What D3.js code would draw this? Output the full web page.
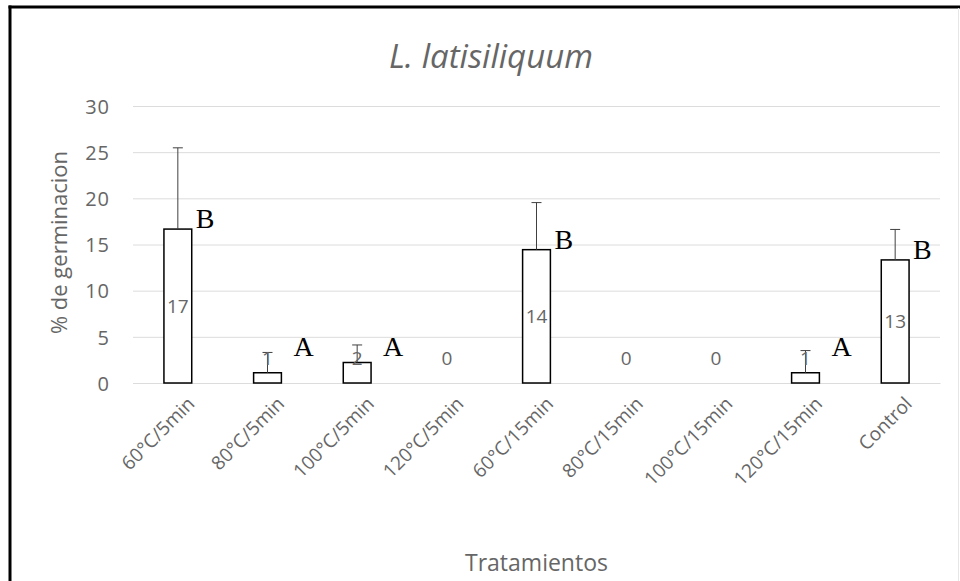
<!DOCTYPE html>
<html>
<head>
<meta charset="utf-8">
<script src="https://cdn.jsdelivr.net/npm/d3@7"></script>
<style>
  body { margin: 0; background: #fff; overflow: hidden; }
  svg { display: block; }
</style>
</head>
<body>
<div id="chart"></div>
<script>
// data
var categories = ['60°C/5min', '80°C/5min', '100°C/5min', '120°C/5min', '60°C/15min',
                  '80°C/15min', '100°C/15min', '120°C/15min', 'Control'];
var values = [16.67, 1.11, 2.22, 0, 14.44, 0, 0, 1.11, 13.33];
var errors = [8.8, 2.2, 1.9, 0, 5.1, 0, 0, 2.4, 3.3];
var valueLabels = ['17', '1', '2', '0', '14', '0', '0', '1', '13'];
var letters = ['B', 'A', 'A', '', 'B', '', '', 'A', 'B'];
var yTicks = [0, 5, 10, 15, 20, 25, 30];

var width = 960, height = 581;
var margin = { top: 106, right: 20, bottom: 198, left: 133 };
var plotW = 940 - margin.left;
var plotH = 383 - margin.top;
var textGray = '#666666';

var svg = d3.select('#chart').append('svg')
    .attr('width', width)
    .attr('height', height);

// outer frame (only left and top edges fall inside the picture)
svg.append('line')
    .attr('x1', 10).attr('x2', 10)
    .attr('y1', 5.5).attr('y2', height)
    .attr('stroke', '#000').attr('stroke-width', 3);
svg.append('line')
    .attr('x1', 8.5).attr('x2', width)
    .attr('y1', 7).attr('y2', 7)
    .attr('stroke', '#000').attr('stroke-width', 3);
svg.append('line')
    .attr('x1', 958.5).attr('x2', 958.5)
    .attr('y1', 8).attr('y2', height)
    .attr('stroke', '#e6e6e6').attr('stroke-width', 1);

var g = svg.append('g')
    .attr('transform', 'translate(' + margin.left + ',' + margin.top + ')');

var xScale = d3.scaleBand()
    .domain(categories)
    .range([0, plotW])
    .paddingInner(0.69)
    .paddingOuter(0.345);

var yScale = d3.scaleLinear()
    .domain([0, 30])
    .range([plotH, 0]);

// grid lines
var yAxis = d3.axisLeft(yScale)
    .tickValues(yTicks)
    .tickSize(-plotW)
    .tickPadding(23);

var yg = g.append('g').call(yAxis);
yg.select('.domain').remove();
yg.selectAll('line').attr('stroke', '#dcdcdc').attr('stroke-width', 1);
yg.selectAll('text')
    .attr('fill', textGray)
    .attr('dy', '0.36em')
    .style('font-family', 'Open Sans, sans-serif')
    .style('font-size', '20px')
    .style('letter-spacing', '1px');

// x axis
var xAxis = d3.axisBottom(xScale).tickSize(0).tickFormat('');
var xg = g.append('g')
    .attr('transform', 'translate(0,' + plotH + ')')
    .call(xAxis);
xg.select('.domain').attr('stroke', '#dcdcdc');

xg.selectAll('.tick').append('text')
    .attr('text-anchor', 'end')
    .attr('fill', textGray)
    .style('font-family', 'Open Sans, sans-serif')
    .style('font-size', '19px')
    .attr('transform', 'translate(18,22) rotate(-45)')
    .text(function(d) { return d; });

// bars
var bw = xScale.bandwidth();
g.selectAll('.bar')
    .data(values)
    .enter().append('rect')
    .attr('class', 'bar')
    .attr('x', function(d, i) { return xScale(categories[i]); })
    .attr('y', function(d) { return yScale(d); })
    .attr('width', bw)
    .attr('height', function(d) { return plotH - yScale(d); })
    .attr('fill', '#fff')
    .attr('stroke', function(d) { return d > 0 ? '#000' : 'none'; })
    .attr('stroke-width', 1.5);

// error bars
var errG = g.selectAll('.err')
    .data(values)
    .enter().append('g')
    .attr('class', 'err')
    .style('display', function(d, i) { return errors[i] > 0 ? null : 'none'; });

errG.append('line')
    .attr('x1', function(d, i) { return xScale(categories[i]) + bw / 2; })
    .attr('x2', function(d, i) { return xScale(categories[i]) + bw / 2; })
    .attr('y1', function(d) { return yScale(d); })
    .attr('y2', function(d, i) { return yScale(d + errors[i]); })
    .attr('stroke', '#404040')
    .attr('stroke-width', 1);

errG.append('line')
    .attr('x1', function(d, i) { return xScale(categories[i]) + bw / 2 - 5; })
    .attr('x2', function(d, i) { return xScale(categories[i]) + bw / 2 + 5; })
    .attr('y1', function(d, i) { return yScale(d + errors[i]); })
    .attr('y2', function(d, i) { return yScale(d + errors[i]); })
    .attr('stroke', '#404040')
    .attr('stroke-width', 1);

// value labels
g.selectAll('.vlabel')
    .data(values)
    .enter().append('text')
    .attr('class', 'vlabel')
    .attr('x', function(d, i) { return xScale(categories[i]) + bw / 2; })
    .attr('y', function(d) {
        var h = plotH - yScale(d);
        return h > 40 ? yScale(d / 2) + 7 : plotH - 18;
    })
    .attr('text-anchor', 'middle')
    .attr('fill', textGray)
    .style('font-family', 'Open Sans, sans-serif')
    .style('font-size', '19px')
    .text(function(d, i) { return valueLabels[i]; });

// significance letters
g.selectAll('.letter')
    .data(values)
    .enter().append('text')
    .attr('class', 'letter')
    .attr('x', function(d, i) {
        var right = xScale(categories[i]) + bw;
        return (plotH - yScale(d)) > 40 ? right + 4 : right + 12;
    })
    .attr('y', function(d) {
        return (plotH - yScale(d)) > 40 ? yScale(d) - 1 : plotH - 27;
    })
    .attr('fill', '#000')
    .style('font-family', 'Liberation Serif, Times New Roman, serif')
    .style('font-size', '28px')
    .text(function(d, i) { return letters[i]; });

// title
svg.append('text')
    .attr('x', 491)
    .attr('y', 68)
    .attr('text-anchor', 'middle')
    .attr('fill', textGray)
    .style('font-family', 'Open Sans, sans-serif')
    .style('font-style', 'italic')
    .style('font-size', '33px')
    .text('L. latisiliquum');

// axis titles
svg.append('text')
    .attr('transform', 'translate(67,' + (margin.top + plotH / 2 - 2) + ') rotate(-90)')
    .attr('text-anchor', 'middle')
    .attr('fill', textGray)
    .style('font-family', 'Open Sans, sans-serif')
    .style('font-size', '22px')
    .text('% de germinacion');

svg.append('text')
    .attr('x', margin.left + plotW / 2)
    .attr('y', 571)
    .attr('text-anchor', 'middle')
    .attr('fill', textGray)
    .style('font-family', 'Open Sans, sans-serif')
    .style('font-size', '23px')
    .text('Tratamientos');
</script>
</body>
</html>
